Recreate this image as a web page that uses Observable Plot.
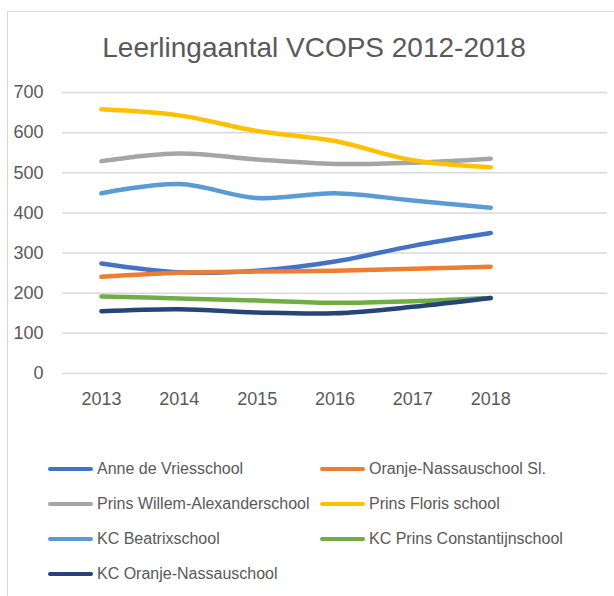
<!DOCTYPE html>
<html>
<head>
<meta charset="utf-8">
<script src="https://cdn.jsdelivr.net/npm/d3@7"></script>
<script src="https://cdn.jsdelivr.net/npm/@observablehq/plot@0.6"></script>
<style>
  body { margin: 0; background: #fff; }
  #wrap { position: relative; width: 614px; height: 596px; overflow: hidden;
          font-family: "Liberation Sans", Arial, sans-serif; color: #595959; background: #fff; }
  #frame { position: absolute; left: 7px; top: 11px; width: 800px; height: 800px;
           border: 1px solid #d9d9d9; box-sizing: border-box; }
  #title { position: absolute; left: 0; width: 628px; top: 32px; line-height: 32px;
           text-align: center; font-size: 28px; white-space: nowrap; }
  #chart { position: absolute; left: 0; top: 0; }
  .item { position: absolute; display: flex; align-items: center; height: 20px;
          font-size: 16px; line-height: 20px; white-space: nowrap; }
  .swatch { width: 45px; height: 4.5px; border-radius: 2.25px; margin-right: 4px; }
</style>
</head>
<body>
<div id="wrap">
  <div id="frame"></div>
  <div id="title">Leerlingaantal VCOPS 2012-2018</div>
  <div id="chart"></div>
  <div id="legend"></div>
</div>
<script>
const years = [2013, 2014, 2015, 2016, 2017, 2018];
const yTicks = [0, 100, 200, 300, 400, 500, 600, 700];

const schools = [
  "Anne de Vriesschool",
  "Oranje-Nassauschool Sl.",
  "Prins Willem-Alexanderschool",
  "Prins Floris school",
  "KC Beatrixschool",
  "KC Prins Constantijnschool",
  "KC Oranje-Nassauschool"
];
const colors = ["#4472C4", "#ED7D31", "#A5A5A5", "#FFC000", "#5B9BD5", "#70AD47", "#264478"];

const anneDeVriesschool        = [274, 252, 256, 279, 318, 350];
const oranjeNassauschoolSl     = [241, 251, 254, 256, 261, 266];
const prinsWillemAlexander     = [529, 548, 533, 522, 525, 535];
const prinsFlorisSchool        = [658, 643, 604, 579, 531, 514];
const kcBeatrixschool          = [449, 472, 437, 449, 431, 413];
const kcPrinsConstantijnschool = [192, 187, 182, 176, 180, 188];
const kcOranjeNassauschool     = [155, 160, 152, 150, 166, 188];

const seriesValues = [
  anneDeVriesschool, oranjeNassauschoolSl, prinsWillemAlexander, prinsFlorisSchool,
  kcBeatrixschool, kcPrinsConstantijnschool, kcOranjeNassauschool
];

const data = [];
seriesValues.forEach((vals, i) =>
  vals.forEach((v, j) => data.push({school: schools[i], year: years[j], value: v})));

const chart = Plot.plot({
  width: 614,
  height: 420,
  marginLeft: 62,
  marginRight: 7,
  marginTop: 92,
  marginBottom: 47,
  style: {fontFamily: "'Liberation Sans', Arial, sans-serif", fontSize: "18px", color: "#595959", background: "transparent", overflow: "visible"},
  x: {domain: [2012.5, 2019.5], label: null},
  y: {domain: [0, 700], label: null},
  color: {domain: schools, range: colors},
  marks: [
    Plot.gridY(yTicks, {stroke: "#d9d9d9", strokeOpacity: 1, strokeWidth: 1.5}),
    Plot.axisY(yTicks, {tickSize: 0, tickPadding: 19, label: null, fontSize: 18}),
    Plot.axisX(years, {tickSize: 0, tickPadding: 19, label: null, tickFormat: d => String(d), fontSize: 18}),
    Plot.line(data, {x: "year", y: "value", z: "school", stroke: "school",
                     strokeWidth: 4.5, strokeLinecap: "round", strokeLinejoin: "round",
                     curve: "catmull-rom"})
  ]
});
document.getElementById("chart").appendChild(chart);

// legend (two columns, Excel style)
const legend = document.getElementById("legend");
const colX = [48, 320];
const rowY = [459, 494, 529, 564];
schools.forEach((name, i) => {
  const item = document.createElement("div");
  item.className = "item";
  item.style.left = colX[i % 2] + "px";
  item.style.top = rowY[Math.floor(i / 2)] + "px";
  const sw = document.createElement("div");
  sw.className = "swatch";
  sw.style.background = colors[i];
  const tx = document.createElement("span");
  tx.textContent = name;
  item.appendChild(sw);
  item.appendChild(tx);
  legend.appendChild(item);
});
</script>
</body>
</html>
